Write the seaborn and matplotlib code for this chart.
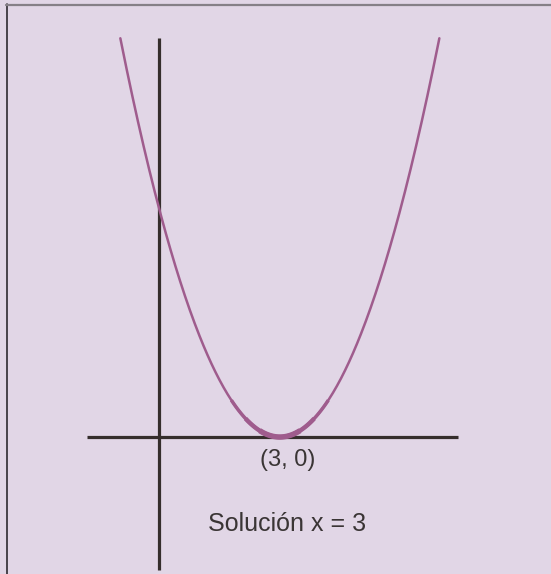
import numpy as np
import matplotlib
matplotlib.use('Agg')
import matplotlib.pyplot as plt
import seaborn as sns
from matplotlib.lines import Line2D

# parabola y = (x - 3)^2, solution at x = 3
vertex_x = 3
vertex_y = 0
curve_x = np.linspace(-0.95, 6.95, 400)
curve_y = (curve_x - vertex_x) ** 2 + vertex_y
# the line gets a bit thicker towards the vertex
arc_halfwidths = [1.2, 0.85, 0.5]
arc_widths = [2.5, 3.2, 3.9]

point_label = '(3, 0)'
solution_label = 'Solución x = 3'

bg = '#e1d6e6'
curve_color = '#9f5c8d'
axis_color = '#352e2c'
text_color = '#3a3535'

sns.set_style('white')
fonts = ['Liberation Sans Narrow', 'Liberation Sans', 'DejaVu Sans']

fig = plt.figure(figsize=(5.51, 5.74), dpi=100, facecolor=bg)
ax = fig.add_axes([0, 0, 1, 1])
ax.set_facecolor(bg)

# hand drawn axes
ax.plot([-1.776, 7.41], [0, 0], color=axis_color, lw=2.3, solid_capstyle='butt', zorder=1)
ax.plot([0, 0], [-5.2, 15.6], color=axis_color, lw=2.3, solid_capstyle='butt', zorder=1)

sns.lineplot(x=curve_x, y=curve_y, ax=ax, color=curve_color, lw=1.8, sort=False, zorder=2)
for hw, w in zip(arc_halfwidths, arc_widths):
    arc_x = np.linspace(vertex_x - hw, vertex_x + hw, 100)
    arc_y = (arc_x - vertex_x) ** 2 + vertex_y
    ln = sns.lineplot(x=arc_x, y=arc_y, ax=ax, color=curve_color, lw=w, sort=False, zorder=2)
    ln.lines[-1].set_solid_capstyle('butt')

ax.text(3.19, -1.13, point_label, ha='center', va='baseline', fontsize=17,
        color=text_color, family=fonts)
ax.text(3.18, -3.68, solution_label, ha='center', va='baseline', fontsize=18,
        color=text_color, family=fonts)

ax.set_xlim(-3.930, 9.715)
ax.set_ylim(-5.36, 17.10)
ax.axis('off')

# frame lines at left and top of the picture
fig.add_artist(Line2D([6.5 / 551, 6.5 / 551], [0, 1 - 4 / 574], color='#2e2a30', lw=1.2))
fig.add_artist(Line2D([6 / 551, 1], [1 - 4.5 / 574, 1 - 4.5 / 574], color='#858087', lw=1.6))

fig.savefig('out.png', dpi=100, facecolor=bg)
